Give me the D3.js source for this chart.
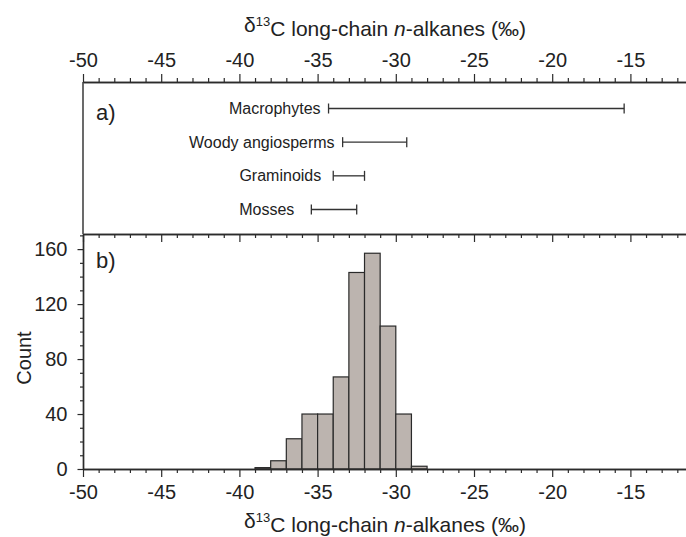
<!DOCTYPE html>
<html>
<head>
<meta charset="utf-8">
<script src="https://cdn.jsdelivr.net/npm/d3@7"></script>
<style>
  html, body { margin: 0; padding: 0; background: #fff; }
  svg { display: block; font-family: "Liberation Sans", Arial, sans-serif; }
</style>
</head>
<body>
<svg id="chart" width="686" height="537"></svg>
<script>
// ---------- data ----------
const xTickValues = [-50, -45, -40, -35, -30, -25, -20, -15];
const xTickLabels = ["-50", "-45", "-40", "-35", "-30", "-25", "-20", "-15"];
const yTickValues = [0, 40, 80, 120, 160];
const yTickLabels = ["0", "40", "80", "120", "160"];

const groups = ["Macrophytes", "Woody angiosperms", "Graminoids", "Mosses"];
const rangeMin = [-34.3, -33.4, -34.0, -35.4];
const rangeMax = [-15.4, -29.3, -32.0, -32.5];

const binStart = [-39, -38, -37, -36, -35, -34, -33, -32, -31, -30, -29];
const binEnd   = [-38, -37, -36, -35, -34, -33, -32, -31, -30, -29, -28];
const counts   = [1, 6, 22, 40, 40, 67, 143, 157, 104, 40, 2];

const axisTitleMain = "δ";
const axisTitleSup = "13";
const axisTitleRest1 = "C long-chain ";
const axisTitleItalic = "n";
const axisTitleRest2 = "-alkanes (‰)";

// ---------- layout ----------
const svg = d3.select("#chart");
const left = 83, topA = 82, divY = 234, baseY = 469;
const ink = "#2b2b2b";

const x = d3.scaleLinear().domain([-50, -10]).range([left, left + 40 * 15.64]);
const y = d3.scaleLinear().domain([0, 171]).range([baseY, divY]);
const yA = d3.scalePoint().domain(groups).range([108.5, 209.5]);

const minorX = d3.range(-50, -9, 1).filter(v => v % 5 !== 0);
const minorY = d3.range(0, 171, 10).filter(v => v % 40 !== 0);

function styleAxis(g) {
  g.selectAll("path.domain").attr("stroke", ink).attr("stroke-width", 1.4);
  g.selectAll(".tick line").attr("stroke", ink).attr("stroke-width", 1.2);
  g.selectAll(".tick text").attr("fill", "#222").style("font-size", "20px")
    .style("font-family", "'Liberation Sans', Arial, sans-serif");
}

// top axis (panel a)
const gTop = svg.append("g").attr("transform", `translate(0,${topA})`)
  .call(d3.axisTop(x).tickValues(xTickValues).tickSize(8).tickPadding(7).tickSizeOuter(0)
    .tickFormat((d, i) => xTickLabels[i]));
styleAxis(gTop);
const gTopMinor = svg.append("g").attr("transform", `translate(0,${topA})`)
  .call(d3.axisTop(x).tickValues(minorX).tickSize(4).tickFormat("").tickSizeOuter(0));
styleAxis(gTopMinor);

// middle divider axis (ticks into panel b)
const gMid = svg.append("g").attr("transform", `translate(0,${divY})`)
  .call(d3.axisBottom(x).tickValues(xTickValues).tickSize(8).tickFormat("").tickSizeOuter(0));
styleAxis(gMid);
const gMidMinor = svg.append("g").attr("transform", `translate(0,${divY})`)
  .call(d3.axisBottom(x).tickValues(minorX).tickSize(4).tickFormat("").tickSizeOuter(0));
styleAxis(gMidMinor);

// left line for panel a
svg.append("line").attr("x1", left).attr("x2", left).attr("y1", topA).attr("y2", divY)
  .attr("stroke", ink).attr("stroke-width", 1.4);

// histogram bars
svg.append("g").selectAll("rect").data(counts).join("rect")
  .attr("x", (d, i) => x(binStart[i]))
  .attr("width", (d, i) => x(binEnd[i]) - x(binStart[i]))
  .attr("y", d => y(d))
  .attr("height", d => y(0) - y(d))
  .attr("fill", "#bcb4af")
  .attr("stroke", "#2a2a2a")
  .attr("stroke-width", 1.2);

// bottom axis
const gBot = svg.append("g").attr("transform", `translate(0,${baseY})`)
  .call(d3.axisBottom(x).tickValues(xTickValues).tickSize(8).tickPadding(8).tickSizeOuter(0)
    .tickFormat((d, i) => xTickLabels[i]));
styleAxis(gBot);
const gBotMinor = svg.append("g").attr("transform", `translate(0,${baseY})`)
  .call(d3.axisBottom(x).tickValues(minorX).tickSize(4).tickFormat("").tickSizeOuter(0));
styleAxis(gBotMinor);

// y axis
const gY = svg.append("g").attr("transform", `translate(${left},0)`)
  .call(d3.axisLeft(y).tickValues(yTickValues).tickSize(5.5).tickPadding(10).tickSizeOuter(0)
    .tickFormat((d, i) => yTickLabels[i]));
styleAxis(gY);
const gYMinor = svg.append("g").attr("transform", `translate(${left},0)`)
  .call(d3.axisLeft(y).tickValues(minorY).tickSize(3).tickFormat("").tickSizeOuter(0));
styleAxis(gYMinor);

// range bars (panel a)
const labelGap = [8, 8, 12, 17];
const capH = 5;
const rg = svg.append("g");
groups.forEach((gname, i) => {
  const yy = yA(gname);
  rg.append("line").attr("x1", x(rangeMin[i])).attr("x2", x(rangeMax[i]))
    .attr("y1", yy).attr("y2", yy).attr("stroke", "#333").attr("stroke-width", 1.3);
  [rangeMin[i], rangeMax[i]].forEach(v => {
    rg.append("line").attr("x1", x(v)).attr("x2", x(v))
      .attr("y1", yy - capH).attr("y2", yy + capH)
      .attr("stroke", "#333").attr("stroke-width", 1.3);
  });
  rg.append("text").attr("x", x(rangeMin[i]) - labelGap[i]).attr("y", yy)
    .attr("dy", "0.35em").attr("text-anchor", "end")
    .style("font-size", "16px").attr("fill", "#222").text(gname);
});

// panel labels
svg.append("text").attr("x", 96).attr("y", 120).style("font-size", "22px").attr("fill", "#222").text("a)");
svg.append("text").attr("x", 96).attr("y", 268).style("font-size", "22px").attr("fill", "#222").text("b)");

// axis titles
function axisTitle(yPos) {
  const t = svg.append("text").attr("x", 385).attr("y", yPos).attr("text-anchor", "middle")
    .style("font-size", "21px").attr("fill", "#222");
  t.append("tspan").text(axisTitleMain);
  t.append("tspan").attr("dy", "-0.45em").style("font-size", "13px").text(axisTitleSup);
  t.append("tspan").attr("dy", "0.45em").text(axisTitleRest1);
  t.append("tspan").style("font-style", "italic").text(axisTitleItalic);
  t.append("tspan").text(axisTitleRest2);
}
axisTitle(32);
axisTitle(528);

svg.append("text").attr("transform", "translate(31,358) rotate(-90)")
  .attr("text-anchor", "middle").style("font-size", "20px").attr("fill", "#222").text("Count");
</script>
</body>
</html>
